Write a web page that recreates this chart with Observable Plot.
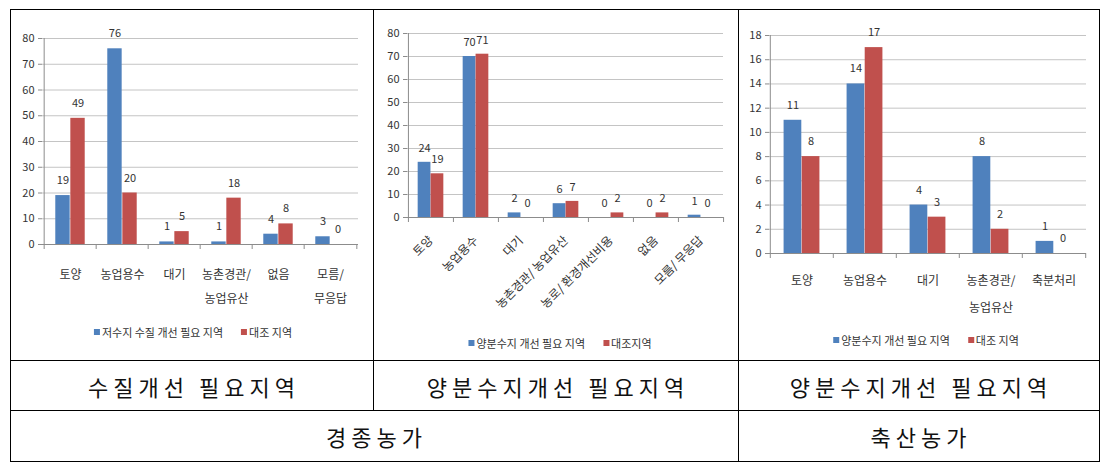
<!DOCTYPE html>
<html><head><meta charset="utf-8">
<script src="https://cdn.jsdelivr.net/npm/d3@7"></script>
<script src="https://cdn.jsdelivr.net/npm/@observablehq/plot@0.6"></script>
<style>
body{margin:0;background:#fff;}
#wrap{position:relative;width:1107px;height:467px;font-family:"Noto Sans CJK KR","Noto Sans",sans-serif;overflow:hidden;}
.ln{position:absolute;background:#000;}
.cell{position:absolute;display:flex;align-items:center;justify-content:center;font-size:22px;letter-spacing:5px;color:#111;}
.panel{position:absolute;}
.legend{position:absolute;display:flex;align-items:center;gap:18px;font-size:11px;color:#333;white-space:nowrap;transform:translate(-50%,-50%);}
.legend span.item{display:flex;align-items:center;}
.sw{display:inline-block;width:6px;height:6px;margin-right:2px;}
</style></head><body><div id="wrap"></div>
<script>
// ---- data ----
const cats1 = ["토양","농업용수","대기","농촌경관/\n농업유산","없음","모름/\n무응답"];
const need1 = [19,76,1,1,4,3];
const ctrl1 = [49,20,5,18,8,0];
const yTicks1 = [0,10,20,30,40,50,60,70,80];
const legend1 = ["저수지 수질 개선 필요 지역","대조 지역"];

const cats2 = ["토양","농업용수","대기","농촌경관/ 농업유산","농로/ 환경개선비용","없음","모름/ 무응답"];
const need2 = [24,70,2,6,0,0,1];
const ctrl2 = [19,71,0,7,2,2,0];
const yTicks2 = [0,10,20,30,40,50,60,70,80];
const legend2 = ["양분수지 개선 필요 지역","대조지역"];

const cats3 = ["토양","농업용수","대기","농촌경관/\n농업유산","축분처리"];
const need3 = [11,14,4,8,1];
const ctrl3 = [8,17,3,2,0];
const yTicks3 = [0,2,4,6,8,10,12,14,16,18];
const legend3 = ["양분수지 개선 필요 지역","대조 지역"];

const rowLabels = ["수질개선 필요지역","양분수지개선 필요지역","양분수지개선 필요지역"];
const groupLabels = ["경종농가","축산농가"];

const BLUE = "#4F81BD", RED = "#C0504D", AXIS = "#8c8c8c", GRID = "#c4c4c4";
const FONT = '"Noto Sans CJK KR","Noto Sans",sans-serif';

function chart(c) {
  const n = c.cats.length;
  const step = (c.width - c.mL - c.mR) / n;
  const bw = step / 3.5, gap = bw * 0.75;
  const rows = c.cats.map((cat, i) => ({cat, a: c.a[i], b: c.b[i]}));
  const ymax = c.ticks[c.ticks.length - 1];
  return Plot.plot({
    width: c.width, height: c.height,
    marginLeft: c.mL, marginRight: c.mR, marginTop: c.mT, marginBottom: c.mB,
    style: {fontFamily: FONT, fontSize: "11px", color: "#333", background: "transparent", overflow: "visible"},
    x: {domain: c.cats, padding: 0, axis: null, label: null},
    y: {domain: [0, ymax], axis: null, label: null},
    marks: [
      Plot.gridY(c.ticks, {stroke: GRID, strokeOpacity: 1}),
      Plot.barY(rows, {x: "cat", y: "a", fill: BLUE, insetLeft: gap, insetRight: step - gap - bw}),
      Plot.barY(rows, {x: "cat", y: "b", fill: RED, insetLeft: gap + bw, insetRight: gap}),
      Plot.ruleY([0], {stroke: AXIS}),
      Plot.ruleX([c.cats[0]], {dx: -step / 2, stroke: AXIS}),
      Plot.axisY(c.ticks, {tickSize: 4, tickPadding: 4, stroke: AXIS, fill: "#333", fontSize: 11, label: null}),
      Plot.axisX(c.cats, {tickSize: 5, tickPadding: 0, tickFormat: () => "", dx: -step / 2, stroke: AXIS, label: null}),
      Plot.axisX([c.cats[n - 1]], {tickSize: 5, tickPadding: 0, tickFormat: () => "", dx: step / 2, stroke: AXIS, label: null}),
      Plot.axisX(c.cats, {tickSize: 0, tickPadding: c.labelPad, fontSize: c.labelSize, lineHeight: c.lineHeight, tickRotate: c.rotate, fill: "#333", label: null}),
      Plot.text(rows, {x: "cat", y: "a", text: "a", dx: -step / 7, dy: c.dyVal, fill: "#333", fontSize: 11}),
      Plot.text(rows, {x: "cat", y: "b", text: "b", dx: step / 7, dy: c.dyVal, fill: "#333", fontSize: 11})
    ]
  });
}

const wrap = document.getElementById("wrap");
function place(el, left, top) {
  const d = document.createElement("div");
  d.className = "panel";
  d.style.left = left + "px"; d.style.top = top + "px";
  d.appendChild(el);
  wrap.appendChild(d);
}
function legend(labels, cx, cy) {
  const d = document.createElement("div");
  d.className = "legend";
  d.style.left = cx + "px"; d.style.top = cy + "px";
  [BLUE, RED].forEach((col, i) => {
    const it = document.createElement("span"); it.className = "item";
    const sw = document.createElement("span"); sw.className = "sw"; sw.style.background = col;
    it.appendChild(sw);
    it.appendChild(document.createTextNode(labels[i]));
    d.appendChild(it);
  });
  wrap.appendChild(d);
}

place(chart({cats: cats1, a: need1, b: ctrl1, ticks: yTicks1, width: 360, height: 300,
  mL: 31, mR: 13, mT: 28, mB: 66, labelPad: 17, labelSize: 12, lineHeight: 2, rotate: 0, dyVal: -15}), 11, 10);
place(chart({cats: cats2, a: need2, b: ctrl2, ticks: yTicks2, width: 361, height: 315,
  mL: 32, mR: 13, mT: 23, mB: 108, labelPad: 21, labelSize: 12, lineHeight: 1, rotate: -45, dyVal: -14}), 375, 10);
place(chart({cats: cats3, a: need3, b: ctrl3, ticks: yTicks3, width: 357, height: 300,
  mL: 29, mR: 11, mT: 25, mB: 57, labelPad: 13, labelSize: 12, lineHeight: 2.2, rotate: 0, dyVal: -15}), 740, 10);

legend(legend1, 193, 332);
legend(legend2, 560, 343);
legend(legend3, 926, 340);

// table lines
function line(x, y, w, h) {
  const d = document.createElement("div"); d.className = "ln";
  d.style.left = x + "px"; d.style.top = y + "px"; d.style.width = w + "px"; d.style.height = h + "px";
  wrap.appendChild(d);
}
line(10, 9, 1090, 1); line(10, 461, 1090, 1);
line(10, 9, 1, 453); line(1099, 9, 1, 453);
line(373, 9, 1, 402); line(738, 9, 1, 453);
line(10, 360, 1090, 1); line(10, 410, 1090, 1);

function cell(text, x1, x2, y1, y2) {
  const d = document.createElement("div"); d.className = "cell";
  d.style.left = x1 + "px"; d.style.top = y1 + "px";
  d.style.width = (x2 - x1) + "px"; d.style.height = (y2 - y1) + "px";
  d.style.paddingLeft = "5px"; d.style.boxSizing = "border-box";
  d.textContent = text;
  wrap.appendChild(d);
}
cell(rowLabels[0], 10, 373, 361, 410);
cell(rowLabels[1], 373, 738, 361, 410);
cell(rowLabels[2], 738, 1099, 361, 410);
cell(groupLabels[0], 10, 738, 411, 461);
cell(groupLabels[1], 738, 1099, 411, 461);
</script></body></html>
